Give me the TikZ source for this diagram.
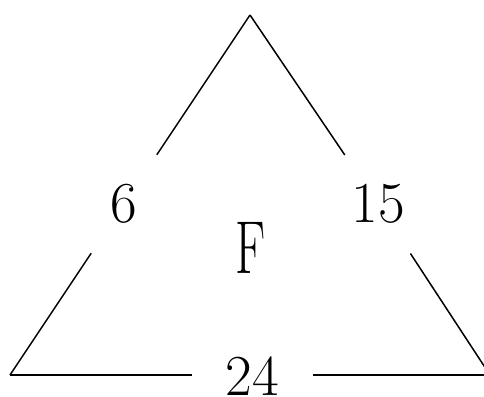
\documentclass[tikz,border=0pt]{standalone}
\usepackage{fontspec}
\usepackage{graphicx}
\begin{document}
\begin{tikzpicture}[x=1pt,y=-1pt,
  side/.style={line width=1.5pt},
  gaplabel/.style={circle,inner sep=0pt,minimum size=118pt,font=\fontsize{58}{60}\selectfont},
  baselabel/.style={rectangle,inner sep=0pt,minimum width=121pt,font=\fontsize{58}{60}\selectfont},
  centerlabel/.style={inner sep=0pt,font=\fontsize{50}{60}\selectfont}]
\useasboundingbox (0,0) rectangle (484,396);
\clip (0,0) rectangle (484,396);
\coordinate (apex) at (250,15);
\coordinate (bl) at (10,375);
\coordinate (br) at (490,375);
\node[gaplabel] (n6) at (124,204) {6};
\node[gaplabel] (n15) at (378,204) {15};
\node[baselabel] (n24) at (252.5,376.5) {24};
\node[centerlabel] (f) at (251,247.5) {\scalebox{1}[1.5]{F}};
\draw[side] (apex) -- (n6);
\draw[side] (n6) -- (bl);
\draw[side] (bl) -- (n24.west |- bl);
\draw[side] (n24.east |- br) -- (br);
\draw[side] (br) -- (n15);
\draw[side] (n15) -- (apex);
\end{tikzpicture}
\end{document}
